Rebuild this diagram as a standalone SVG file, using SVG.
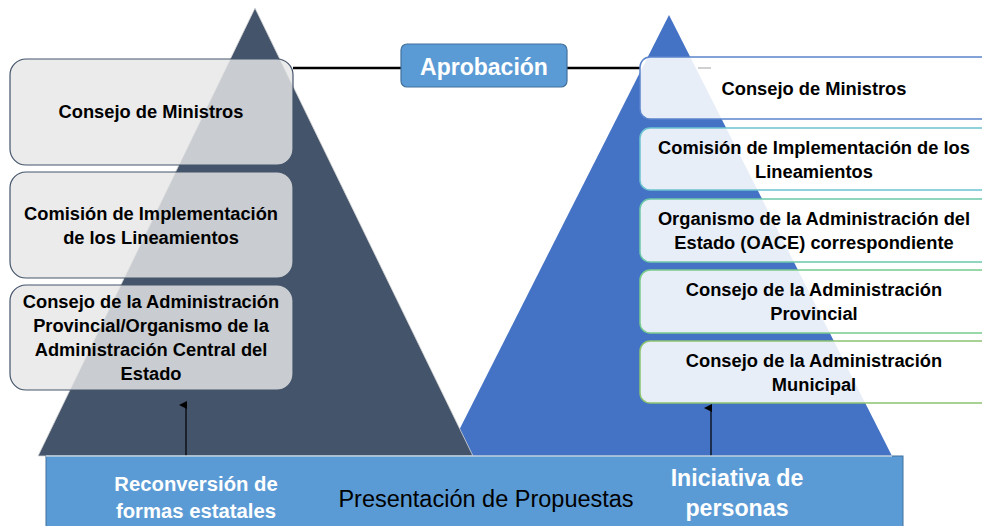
<svg xmlns="http://www.w3.org/2000/svg" width="982" height="526" viewBox="0 0 982 526">
<defs>
<style>
.t{font-family:"Liberation Sans",Arial,sans-serif;font-weight:bold;font-size:18.3px;fill:#000;text-anchor:middle}
.w{font-family:"Liberation Sans",Arial,sans-serif;font-weight:bold;fill:#fff;text-anchor:middle}
.lb{fill:#e6e6e6;fill-opacity:0.82;stroke:#44546a;stroke-width:1.2}
.rb{fill:#ffffff;fill-opacity:0.88;stroke-width:1.5}
</style>
<marker id="ah" markerWidth="8" markerHeight="8" refX="4" refY="7" orient="auto" markerUnits="userSpaceOnUse" viewBox="0 0 8 8">
<path d="M0,8 L4,0 L8,8 Z" fill="#000"/>
</marker>
</defs>
<rect width="982" height="526" fill="#fff"/>
<g id="pyramids">
<polygon points="669,15 892,456 446,456" fill="#4472c4"/>
<polygon points="255,8 473,456 38,456" fill="#44546a" stroke="#d9d9d9" stroke-width="0.8"/>
</g>
<g id="connectors">
<line x1="293" y1="68" x2="640" y2="68" stroke="#000" stroke-width="2.5"/>
<line x1="186" y1="456" x2="186" y2="405" stroke="#000" stroke-width="1.2" marker-end="url(#ah)"/>
<line x1="711" y1="456" x2="711" y2="408" stroke="#000" stroke-width="1.2" marker-end="url(#ah)"/>
</g>
<g id="aprobacion">
<rect x="401" y="44" width="166" height="43" rx="6" fill="#5b9bd5" stroke="#41719c" stroke-width="1.2"/>
<text class="w" x="484" y="75" font-size="23">Aprobación</text>
</g>
<g id="l1">
<rect class="lb" x="10" y="59" width="283" height="106" rx="16"/>
<text class="t" x="151" y="118">Consejo de Ministros</text>
</g>
<g id="l2">
<rect class="lb" x="10" y="172" width="283" height="106" rx="16"/>
<text class="t" x="151" y="220">Comisión de Implementación</text>
<text class="t" x="151" y="244">de los Lineamientos</text>
</g>
<g id="l3">
<rect class="lb" x="10" y="285" width="283" height="105" rx="16"/>
<text class="t" x="151" y="308">Consejo de la Administración</text>
<text class="t" x="151" y="332">Provincial/Organismo de la</text>
<text class="t" x="151" y="356">Administración Central del</text>
<text class="t" x="151" y="380">Estado</text>
</g>
<g id="r1">
<rect class="rb" x="640" y="57" width="360" height="62" rx="10" stroke="#5b84cc"/>
<line x1="698" y1="68" x2="711" y2="68" stroke="#d0d0d0" stroke-width="2"/>
<text class="t" x="814" y="95">Consejo de Ministros</text>
</g>
<g id="r2">
<rect class="rb" x="640" y="128" width="360" height="62" rx="10" stroke="#6cc4d0"/>
<text class="t" x="814" y="154">Comisión de Implementación de los</text>
<text class="t" x="814" y="178">Lineamientos</text>
</g>
<g id="r3">
<rect class="rb" x="640" y="199" width="360" height="63" rx="10" stroke="#6cc8a8"/>
<text class="t" x="814" y="225">Organismo de la Administración del</text>
<text class="t" x="814" y="249">Estado (OACE) correspondiente</text>
</g>
<g id="r4">
<rect class="rb" x="640" y="270" width="360" height="63" rx="10" stroke="#78cc8c"/>
<text class="t" x="814" y="296">Consejo de la Administración</text>
<text class="t" x="814" y="320">Provincial</text>
</g>
<g id="r5">
<rect class="rb" x="640" y="341" width="360" height="62" rx="10" stroke="#8cc470"/>
<text class="t" x="814" y="367">Consejo de la Administración</text>
<text class="t" x="814" y="391">Municipal</text>
</g>
<g id="bar">
<rect x="46" y="456" width="857" height="75" fill="#5b9bd5" stroke="#41719c" stroke-width="1"/>
<line x1="46" y1="456" x2="892" y2="456" stroke="#ffffff" stroke-width="1.2"/>
<text class="w" x="196" y="491" font-size="20.3">Reconversión de</text>
<text class="w" x="196" y="518" font-size="20.3">formas estatales</text>
<text x="486" y="507" font-family="'Liberation Sans',Arial,sans-serif" font-size="23.5" fill="#000" text-anchor="middle">Presentación de Propuestas</text>
<text class="w" x="737" y="486" font-size="23.2">Iniciativa de</text>
<text class="w" x="737" y="516" font-size="23.2">personas</text>
</g>
</svg>
